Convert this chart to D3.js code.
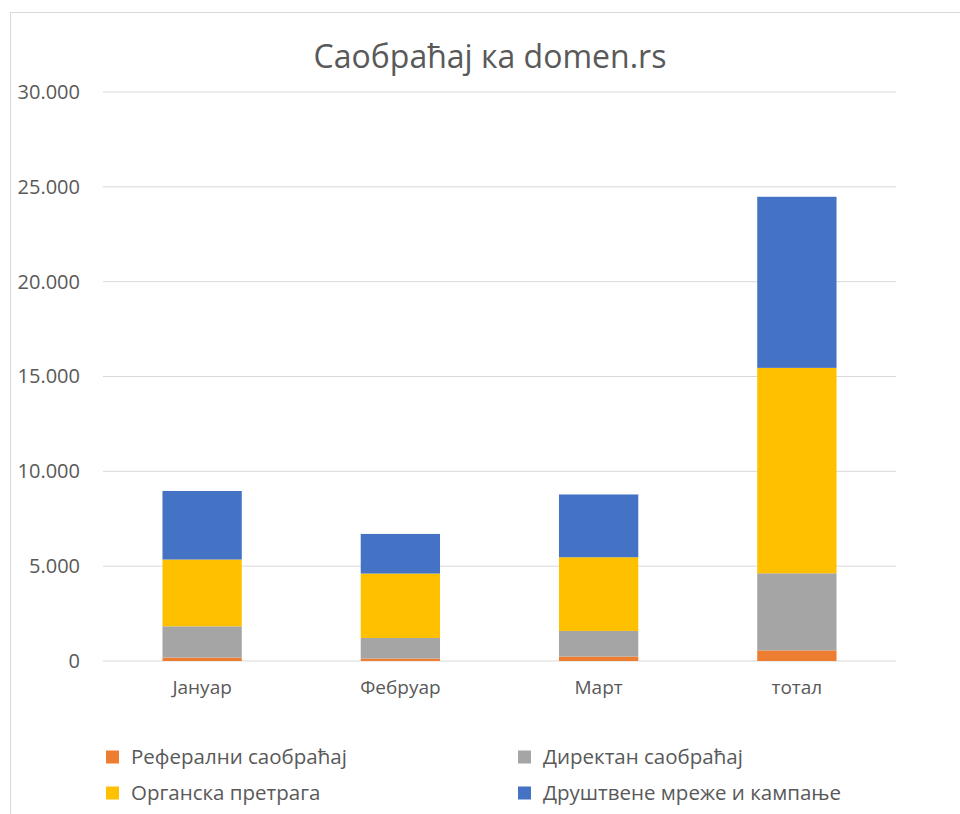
<!DOCTYPE html>
<html>
<head>
<meta charset="utf-8">
<script src="https://cdn.jsdelivr.net/npm/d3@7"></script>
<style>
  body { margin: 0; background: #fff; }
  text { font-family: "Open Sans", "Noto Sans", sans-serif; fill: #595959; }
</style>
</head>
<body>
<div class="canvas"></div>
<script>
// chart data
const categories = ['Јануар', 'Фебруар', 'Март', 'тотал'];
const seriesNames = ['Реферални саобраћај', 'Директан саобраћај', 'Органска претрага', 'Друштвене мреже и кампање'];
const referral = [180, 130, 235, 560];
const direct = [1650, 1085, 1350, 4065];
const organic = [3520, 3395, 3885, 10830];
const social = [3615, 2090, 3310, 9020];
const yTicks = [0, 5000, 10000, 15000, 20000, 25000, 30000];
const colors = ['#ed7d31', '#a5a5a5', '#ffc000', '#4472c4'];

const width = 960, height = 814;
const margin = { top: 92, right: 64, bottom: 153, left: 103 };
const graphWidth = width - margin.left - margin.right;
const graphHeight = height - margin.top - margin.bottom;

const svg = d3.select('.canvas')
  .append('svg')
    .attr('width', width)
    .attr('height', height);

// outer chart frame (runs off the right/bottom edge like in the screenshot)
svg.append('rect')
  .attr('x', 10.5).attr('y', 12.5)
  .attr('width', 970).attr('height', 830)
  .attr('fill', 'none')
  .attr('stroke', '#d9d9d9');

svg.append('text')
  .attr('x', 490).attr('y', 68)
  .attr('text-anchor', 'middle')
  .attr('font-size', '32px')
  .text('Саобраћај ка domen.rs');

const graph = svg.append('g')
  .attr('transform', `translate(${margin.left}, ${margin.top})`);

const x = d3.scaleBand()
  .domain(categories)
  .range([0, graphWidth])
  .paddingInner(0.6)
  .paddingOuter(0.3);

const y = d3.scaleLinear()
  .domain([0, 30000])
  .range([graphHeight, 0]);

// gridlines
graph.append('g')
  .selectAll('line')
  .data(yTicks)
  .enter().append('line')
    .attr('x1', 0).attr('x2', graphWidth)
    .attr('y1', d => y(d)).attr('y2', d => y(d))
    .attr('stroke', '#d9d9d9')
    .attr('stroke-width', 1);

// stacked bars
const rows = categories.map((c, i) => ({
  cat: c, s0: referral[i], s1: direct[i], s2: organic[i], s3: social[i]
}));
const stack = d3.stack().keys(['s0', 's1', 's2', 's3']);
const layers = stack(rows);

graph.selectAll('g.layer')
  .data(layers)
  .enter().append('g')
    .attr('class', 'layer')
    .attr('fill', (d, i) => colors[i])
  .selectAll('rect')
  .data(d => d)
  .enter().append('rect')
    .attr('x', d => x(d.data.cat))
    .attr('width', x.bandwidth())
    .attr('y', d => y(d[1]))
    .attr('height', d => y(d[0]) - y(d[1]));

// axes
const fmt = d => d === 0 ? '0' : d3.format(',')(d).replace(/,/g, '.');
const yAxis = d3.axisLeft(y).tickValues(yTicks).tickFormat(fmt).tickSize(0).tickPadding(23);
const yAxisGroup = graph.append('g').call(yAxis);
yAxisGroup.select('.domain').remove();
yAxisGroup.selectAll('text')
  .attr('font-size', '20px')
  .attr('fill', '#595959');

const xAxis = d3.axisBottom(x).tickSize(0).tickPadding(20);
const xAxisGroup = graph.append('g')
  .attr('transform', `translate(0, ${graphHeight})`)
  .call(xAxis);
xAxisGroup.select('.domain').remove();
xAxisGroup.selectAll('text')
  .attr('font-size', '19px')
  .attr('fill', '#595959');

// legend
const legendPos = [[106, 757], [518, 757], [106, 793], [518, 793]];
const legend = svg.append('g')
  .selectAll('g')
  .data(seriesNames)
  .enter().append('g')
    .attr('transform', (d, i) => `translate(${legendPos[i][0]}, ${legendPos[i][1]})`);
legend.append('rect')
  .attr('x', 0).attr('y', -6.5)
  .attr('width', 13).attr('height', 13)
  .attr('fill', (d, i) => colors[i]);
legend.append('text')
  .attr('x', 25).attr('y', 0)
  .attr('dy', '0.35em')
  .attr('font-size', '20.5px')
  .text(d => d);
</script>
</body>
</html>
